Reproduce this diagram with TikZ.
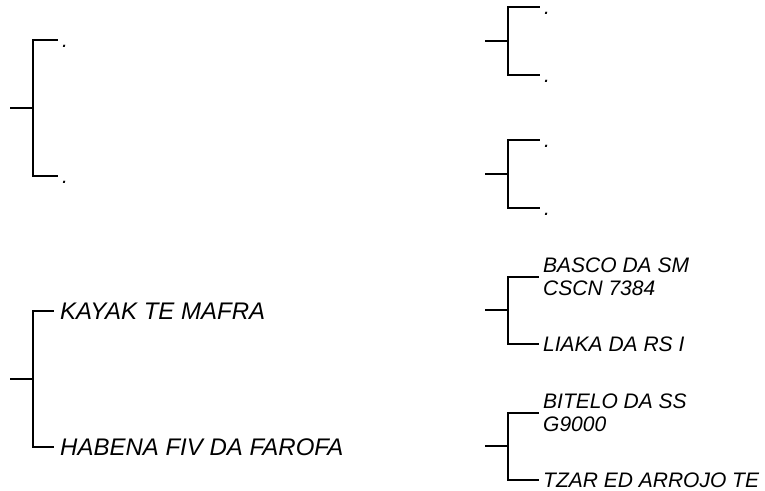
\documentclass[tikz,border=0pt]{standalone}
\usepackage{fontspec}
\setmainfont{Liberation Sans}
\begin{document}
\begin{tikzpicture}[x=1pt,y=-1pt,
  conn/.style={line width=2.6pt,line cap=rect,line join=miter},
  labL/.style={anchor=west,inner xsep=7pt,inner ysep=0pt,font=\fontsize{24}{27}\selectfont\itshape,text height=17.2pt,text depth=0pt},
  labR/.style={anchor=west,inner xsep=5pt,inner ysep=0pt,font=\fontsize{21}{23}\selectfont\itshape,text height=15pt,text depth=0pt},
  mlab/.style={anchor=west,inner xsep=5pt,inner ysep=0pt,font=\fontsize{21}{23}\selectfont\itshape,align=left}]
\useasboundingbox (0,0) rectangle (765,490);
% bracket A (left top)
\coordinate (aS) at (11,108);
\coordinate (aJ) at (33,108);
\node[labR] (a1) at (57,40) {.};
\node[labR] (a2) at (57,176) {.};
\draw[conn] (aS) -- (aJ) |- (a1.west);
\draw[conn] (aJ) |- (a2.west);
% bracket B (left bottom)
\coordinate (bS) at (11,379);
\coordinate (bJ) at (33,379);
\node[labL] (b1) at (53,311) {KAYAK TE MAFRA};
\node[labL] (b2) at (53,447) {HABENA FIV DA FAROFA};
\draw[conn] (bS) -- (bJ) |- (b1.west);
\draw[conn] (bJ) |- (b2.west);
% bracket C (right 1)
\coordinate (cS) at (486,41);
\coordinate (cJ) at (508,41);
\node[labR] (c1) at (539,7) {.};
\node[labR] (c2) at (539,75) {.};
\draw[conn] (cS) -- (cJ) |- (c1.west);
\draw[conn] (cJ) |- (c2.west);
% bracket D (right 2)
\coordinate (dS) at (486,174);
\coordinate (dJ) at (508,174);
\node[labR] (d1) at (539,140) {.};
\node[labR] (d2) at (539,208) {.};
\draw[conn] (dS) -- (dJ) |- (d1.west);
\draw[conn] (dJ) |- (d2.west);
% bracket E (right 3)
\coordinate (eS) at (486,310);
\coordinate (eJ) at (508,310);
\node[mlab] (e1) at (538,277) {BASCO DA SM\\CSCN 7384};
\node[labR] (e2) at (538,344) {LIAKA DA RS I};
\draw[conn] (eS) -- (eJ) |- (e1.west);
\draw[conn] (eJ) |- (e2.west);
% bracket F (right 4)
\coordinate (fS) at (486,446);
\coordinate (fJ) at (508,446);
\node[mlab] (f1) at (538,413) {BITELO DA SS\\G9000};
\node[labR] (f2) at (538,480) {TZAR ED ARROJO TE};
\draw[conn] (fS) -- (fJ) |- (f1.west);
\draw[conn] (fJ) |- (f2.west);
\end{tikzpicture}
\end{document}
